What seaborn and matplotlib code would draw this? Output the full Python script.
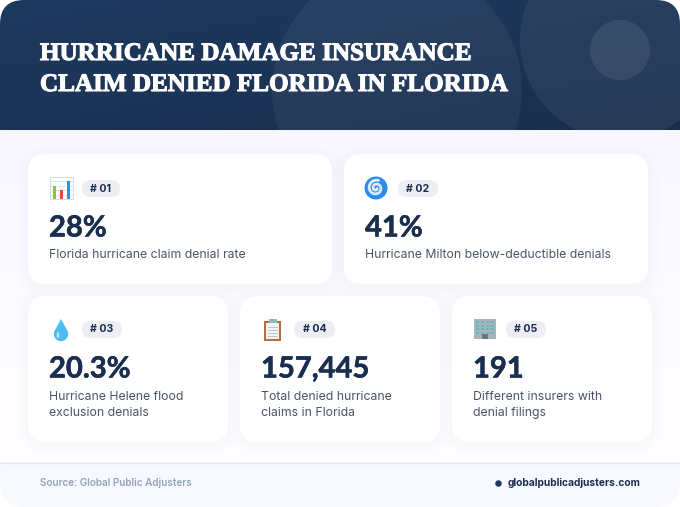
import numpy as np
import matplotlib
matplotlib.use("Agg")
import matplotlib.pyplot as plt
import matplotlib.patheffects as pe
from matplotlib.patches import FancyBboxPatch, Circle, Rectangle, Polygon, Ellipse
import seaborn as sns

title_lines = ["HURRICANE DAMAGE INSURANCE", "CLAIM DENIED FLORIDA IN FLORIDA"]
ranks = ["# 01", "# 02", "# 03", "# 04", "# 05"]
values = ["28%", "41%", "20.3%", "157,445", "191"]
descriptions = [
    "Florida hurricane claim denial rate",
    "Hurricane Milton below-deductible denials",
    "Hurricane Helene flood\nexclusion denials",
    "Total denied hurricane\nclaims in Florida",
    "Different insurers with\ndenial filings",
]
source_text = "Source: Global Public Adjusters"
site_text = "globalpublicadjusters.com"

# card boxes, pixels: left, top, width, height
cards = [(28, 154, 304, 130), (344, 154, 304, 130),
         (28, 296, 200, 146), (240, 296, 200, 146), (452, 296, 200, 146)]

NAVY = "#1a2f50"
SANS = "Inter"

sns.set_theme(style="white")
fig, ax = plt.subplots(figsize=(6.8, 5.07), dpi=100)
fig.subplots_adjust(0, 0, 1, 1)
ax.set_xlim(0, 680)
ax.set_ylim(507, 0)
ax.axis("off")


def rbox(x, y, w, h, r, **kw):
    p = FancyBboxPatch((x + r, y + r), w - 2 * r, h - 2 * r,
                       boxstyle=f"round,pad={r},rounding_size={r}", **kw)
    ax.add_patch(p)
    return p


# page with rounded corners, body gradient
page = rbox(0, 0, 680, 507, 24, fc="none", ec="none")
body = np.linspace(0, 1, 256)[:, None, None] * np.array([[[1, 1, 0]]]) * 7 + np.array([[[248, 247, 255]]])
im = ax.imshow(np.clip(body, 0, 255) / 255, extent=(0, 680, 462, 130), aspect="auto", zorder=0)
im.set_clip_path(page)

# header
xx, yy = np.meshgrid(np.linspace(0, 1, 200), np.linspace(0, 1, 60))
t = (xx + yy) / 2
c0 = np.array([0x1e, 0x3a, 0x5f]) / 255
c1 = np.array([0x1a, 0x2e, 0x4e]) / 255
head = c0 + (c1 - c0) * t[..., None]
im = ax.imshow(head, extent=(0, 680, 130, 0), aspect="auto", zorder=1)
im.set_clip_path(page)
ax.set_xlim(0, 680)
ax.set_ylim(507, 0)
for cx, cy, r, a in [(397, 90, 125, 0.05), (620, 40, 100, 0.06), (620, 50, 30, 0.08)]:
    c = Circle((cx, cy), r, fc="white", alpha=a, ec="none", zorder=2)
    ax.add_patch(c)
    c.set_clip_path(Rectangle((0, 0), 680, 130, transform=ax.transData))

for i, line in enumerate(title_lines):
    ax.text(40, 53.5 + 31 * i, line, color="white", fontsize=18.1, fontweight="bold",
            family="Liberation Serif", va="center", ha="left", zorder=5,
            path_effects=[pe.withStroke(linewidth=0.8, foreground="white")])

# footer
foot = Rectangle((0, 462), 680, 45, fc="#f8f8ff", ec="none", zorder=1)
ax.add_patch(foot)
foot.set_clip_path(page)
ax.plot([0, 680], [462.5, 462.5], color="#e4e6f4", lw=1, zorder=2)
ax.text(40, 483.5, source_text, color="#94a3b8", fontsize=7.2, fontweight="semibold",
        family=SANS, va="center", zorder=5)
ax.text(640, 483.5, site_text, color=NAVY, fontsize=7.35, fontweight="bold",
        family=SANS, va="center", ha="right", zorder=5)
sns.scatterplot(x=[497.5], y=[483], s=22, color="#1e3a5f", linewidth=0, ax=ax, zorder=5, legend=False)


# icons, drawn from small shapes
def icon_chart(x, y):
    ax.add_patch(Rectangle((x, y), 23, 22, fc="white", ec="#d5dde3", lw=0.8, zorder=6))
    for k in range(1, 5):
        ax.plot([x, x + 23], [y + k * 4.4] * 2, color="#dbe3e8", lw=0.6, zorder=6)
    for dx, top, col in [(3, 9, "#8bc34a"), (10, 13, "#f44336"), (17, 4, "#2196f3")]:
        ax.add_patch(Rectangle((x + dx, y + top), 3.4, 22 - top, fc=col, ec="none", zorder=7))


def icon_spiral(x, y):
    ax.add_patch(Circle((x, y), 11.5, fc="#2b8cf0", ec="none", zorder=6))
    th = np.linspace(0.4, 3.6 * np.pi, 150)
    r = 1.0 + th * 0.62
    ax.plot(x + r * np.cos(th), y + r * np.sin(th), color="#d9ecfd", lw=2.0, zorder=7)


def icon_drop(x, y):
    th = np.linspace(-0.2 * np.pi, 1.2 * np.pi, 60)
    arc = np.c_[x + 7.2 * np.cos(th), y + 4 + 7.2 * np.sin(th)]
    ax.add_patch(Polygon(np.vstack([[x, y - 11], arc]), fc="#4fbcf2", ec="none", zorder=6))
    ax.add_patch(Ellipse((x - 3, y + 5), 2.6, 6, fc="#bfe7fb", ec="none", zorder=7))


def icon_clip(x, y):
    ax.add_patch(Rectangle((x, y + 2), 17, 20, fc="#b5703c", ec="none", zorder=6))
    ax.add_patch(Rectangle((x + 1.8, y + 4), 13.4, 16.4, fc="#f1f5f7", ec="none", zorder=7))
    for k in range(4):
        ax.plot([x + 4, x + 13], [y + 8 + 3 * k] * 2, color="#b8c6ce", lw=0.7, zorder=8)
    ax.add_patch(Rectangle((x + 4.5, y), 8, 4, fc="#8fb8c6", ec="none", zorder=8))


def icon_building(x, y):
    ax.add_patch(Rectangle((x, y), 22, 20, fc="#a5b5b8", ec="none", zorder=6))
    for row in range(4):
        for col in range(4):
            ax.add_patch(Rectangle((x + 2 + col * 4.8, y + 2 + row * 3.6), 3.2, 2.2,
                                   fc="#6fb5bd", ec="none", zorder=7))
    ax.add_patch(Rectangle((x + 8, y + 15), 6, 5, fc="#6f7679", ec="none", zorder=8))


draw_icons = [
    lambda x, y: icon_chart(x + 1, y - 11),
    lambda x, y: icon_spiral(x + 11, y),
    lambda x, y: icon_drop(x + 12, y + 1),
    lambda x, y: icon_clip(x + 3, y - 10),
    lambda x, y: icon_building(x + 1, y - 10),
]

# badge widths in pixels
badge_w = [38, 40, 40, 41, 40]

for i, (x, y, w, h) in enumerate(cards):
    for grow, a in [(12, 0.004), (9, 0.004), (6, 0.005), (3, 0.006)]:
        rbox(x - grow, y - grow + 4, w + 2 * grow, h + 2 * grow, 18 + grow,
             fc="#1a2f50", alpha=a, ec="none", zorder=3)
    rbox(x, y, w, h, 18, fc="white", ec="none", zorder=4)

    px = x + 21
    top = y + 34 if h < 140 else y + 33
    draw_icons[i](px, top)
    rbox(x + 54, top - 8, badge_w[i], 17, 8.5, fc="#eceef3", ec="none", zorder=5)
    ax.text(x + 54 + badge_w[i] / 2, top + 0.5, ranks[i], color=NAVY, fontsize=7.6, fontweight="bold",
            family=SANS, va="center", ha="center", zorder=6)
    ax.text(px, top + 40.5, values[i], color=NAVY, fontsize=21, fontweight="bold",
            family="Lato", va="center", ha="left", zorder=6,
            path_effects=[pe.withStroke(linewidth=0.4, foreground=NAVY)])
    two_line = "\n" in descriptions[i]
    ax.text(px, top + 76 if two_line else top + 66.5, descriptions[i],
            color="#4a5568", fontsize=8.8, family=SANS, va="center", ha="left",
            linespacing=1.55, zorder=6)

ax.set_xlim(0, 680)
ax.set_ylim(507, 0)
fig.savefig("out.png", dpi=100, facecolor="white")
